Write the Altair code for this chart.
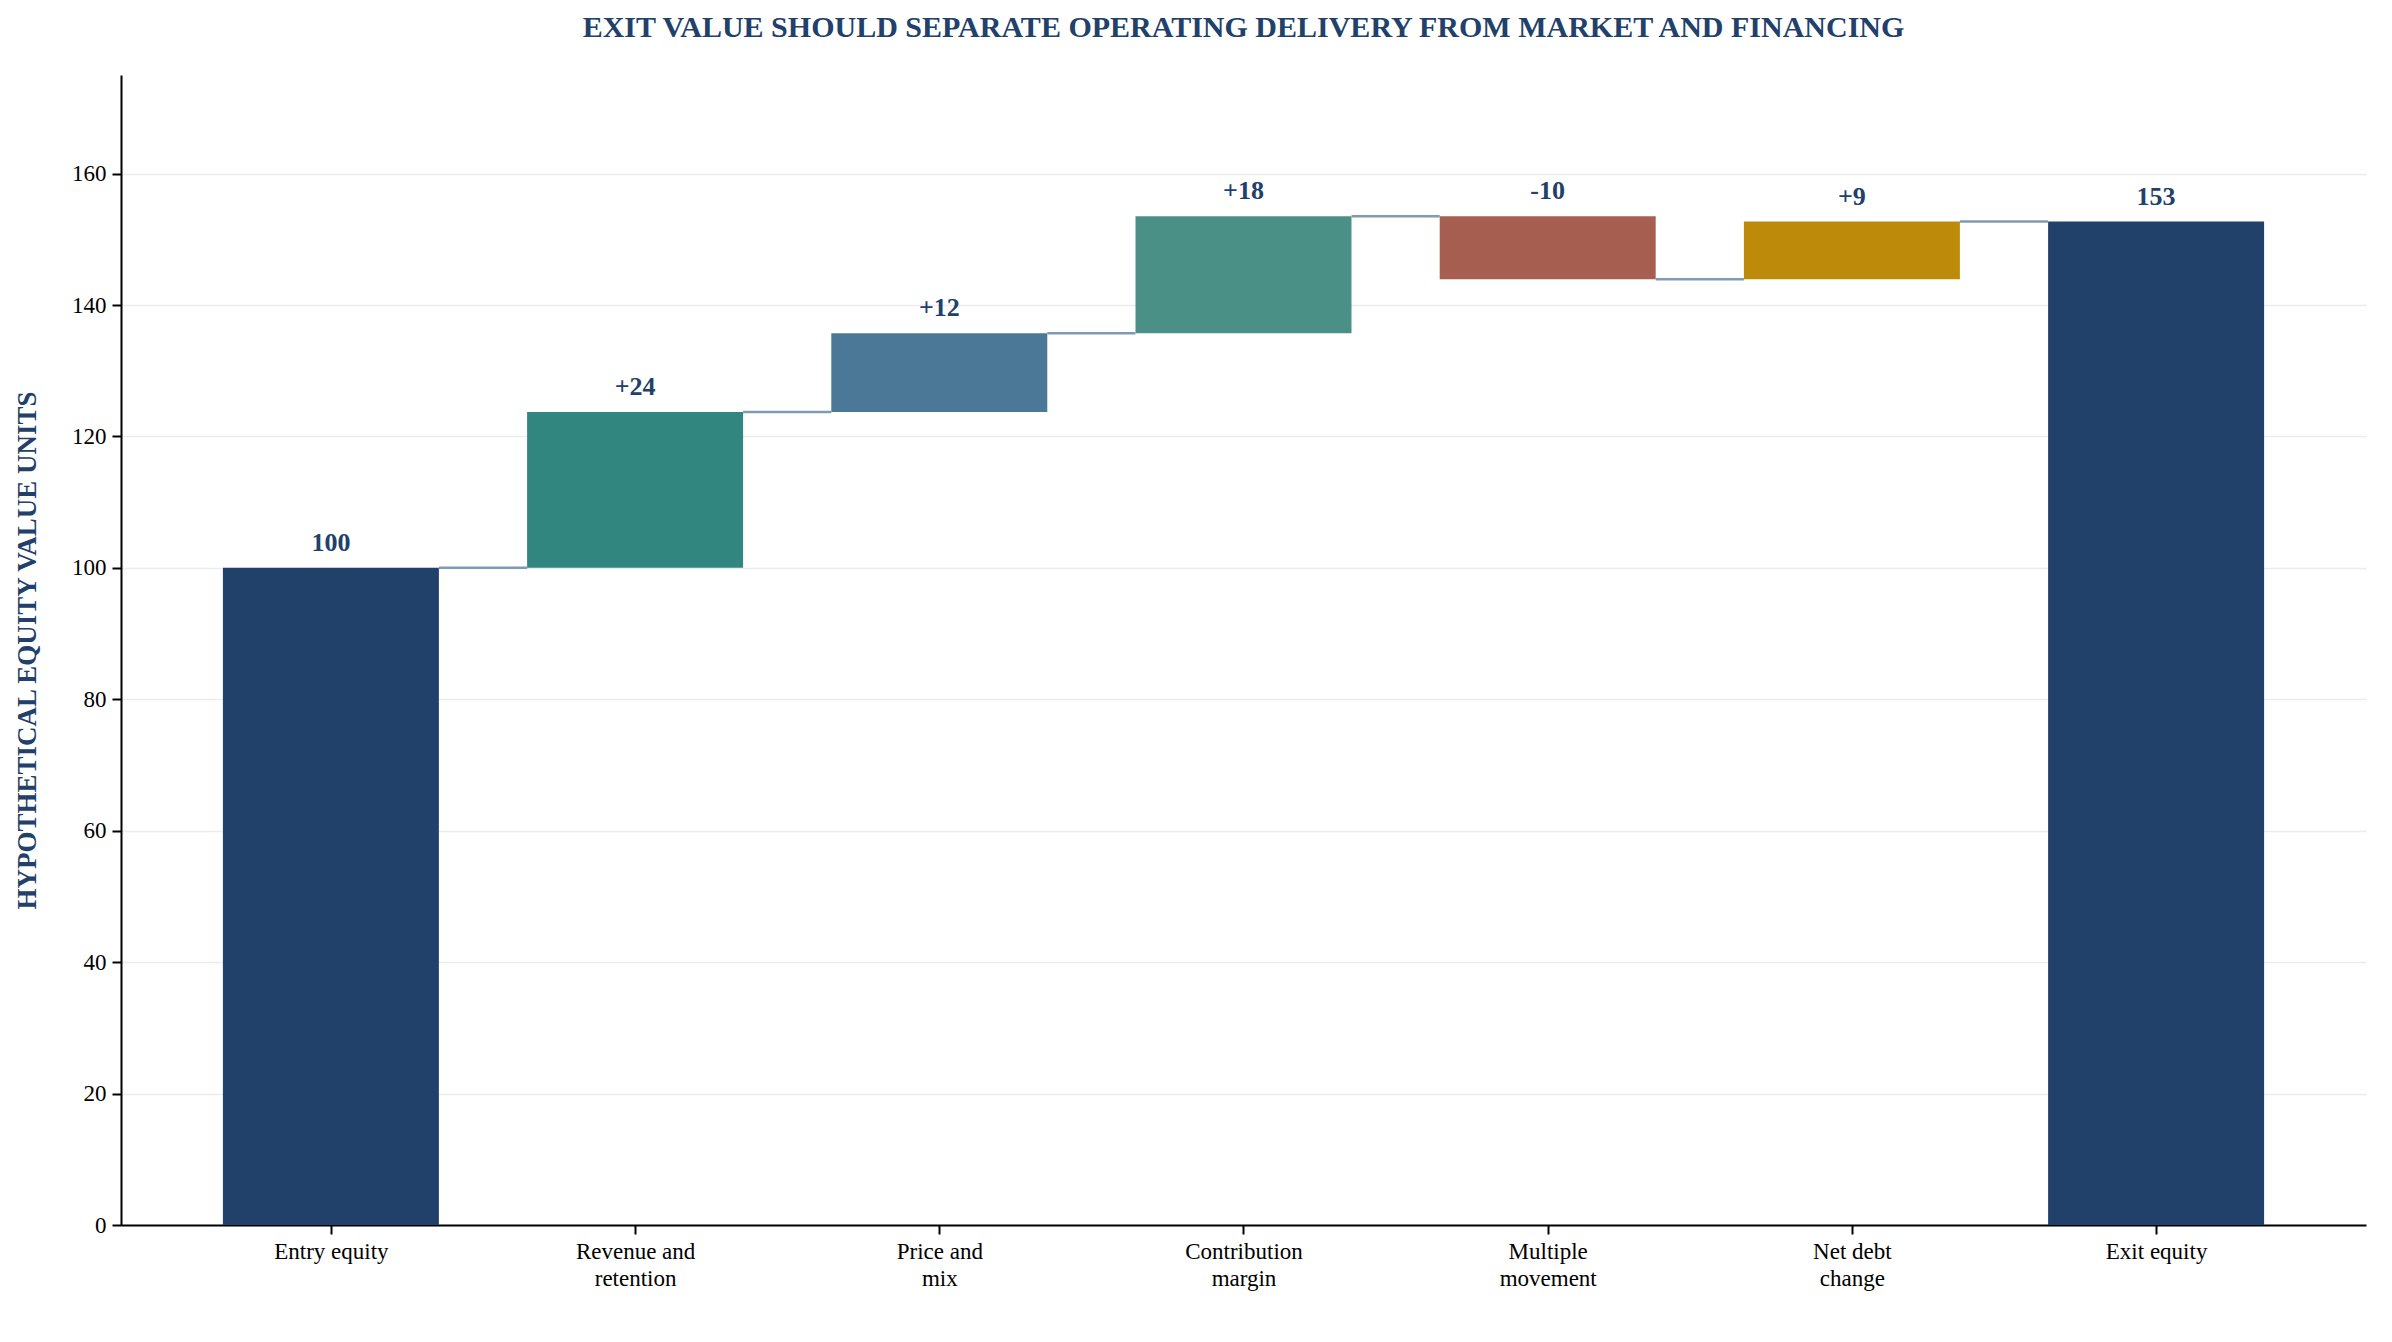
import altair as alt
import pandas as pd

steps = ["Entry equity", "Revenue and|retention", "Price and|mix", "Contribution|margin",
         "Multiple|movement", "Net debt|change", "Exit equity"]
deltas = [100, 23.7, 12.0, 17.8, -9.6, 8.8]
colors = ["#21406a", "#31867f", "#4a7896", "#4b9086", "#a65e50", "#be8a0a", "#21406a"]
value_labels = ["100", "+24", "+12", "+18", "-10", "+9", "153"]

rows = []
level = 0
for i, d in enumerate(deltas):
    start = 0 if i == 0 else level
    level = level + d
    rows.append({"i": i, "lo": min(start, level), "hi": max(start, level), "end": level})
rows.append({"i": 6, "lo": 0, "hi": level, "end": level})
df = pd.DataFrame(rows)
df["color"] = colors
df["label"] = value_labels
half = 0.355
df["x1"] = df["i"] - half
df["x2"] = df["i"] + half
df["cx1"] = df["i"] + half
df["cx2"] = df["i"] + 1 - half

names_js = "[" + ",".join("'" + s + "'" for s in steps) + "]"
xs = alt.Scale(domain=[-0.69, 6.69], nice=False, zero=False)
ys = alt.Scale(domain=[0, 175], nice=False)

base = alt.Chart(df)
bars = base.mark_rect().encode(
    x=alt.X("x1:Q", scale=xs, title=None,
            axis=alt.Axis(values=list(range(7)), grid=False,
                          labelExpr="split(" + names_js + "[datum.value], '|')")),
    x2="x2:Q",
    y=alt.Y("lo:Q", scale=ys, title="HYPOTHETICAL EQUITY VALUE UNITS",
            axis=alt.Axis(values=list(range(0, 161, 20)), grid=True)),
    y2="hi:Q",
    color=alt.Color("color:N", scale=None),
)
conn = base.transform_filter("datum.i < 6").mark_rule(color="#7f9bb3", strokeWidth=2.5).encode(
    x="cx1:Q", x2="cx2:Q", y="end:Q")
text = base.mark_text(baseline="bottom", dy=-12, fontSize=26, fontWeight="bold",
                      color="#21406a", font="Liberation Serif").encode(
    x=alt.X("i:Q", scale=xs), y="hi:Q", text="label:N")

chart = (bars + conn + text).properties(
    width=2245, height=1150,
    title=alt.Title("EXIT VALUE SHOULD SEPARATE OPERATING DELIVERY FROM MARKET AND FINANCING",
                    fontSize=30, font="Liberation Serif", fontWeight="bold",
                    color="#21406a", offset=40, dy=8),
).configure_view(stroke=None).configure_axis(
    labelFont="Liberation Serif", labelFontSize=23, labelColor="#000000",
    titleFont="Liberation Serif", titleFontSize=27, titleColor="#21406a",
    domainColor="#000000", domainWidth=2, tickColor="#000000", tickWidth=2, tickSize=9,
    gridColor="#ececec", gridWidth=1.5, labelPadding=6,
).configure_axisY(titlePadding=30).configure_axisX(labelLineHeight=27)

chart.save("out.html", embed_options={"renderer": "svg", "actions": False})
